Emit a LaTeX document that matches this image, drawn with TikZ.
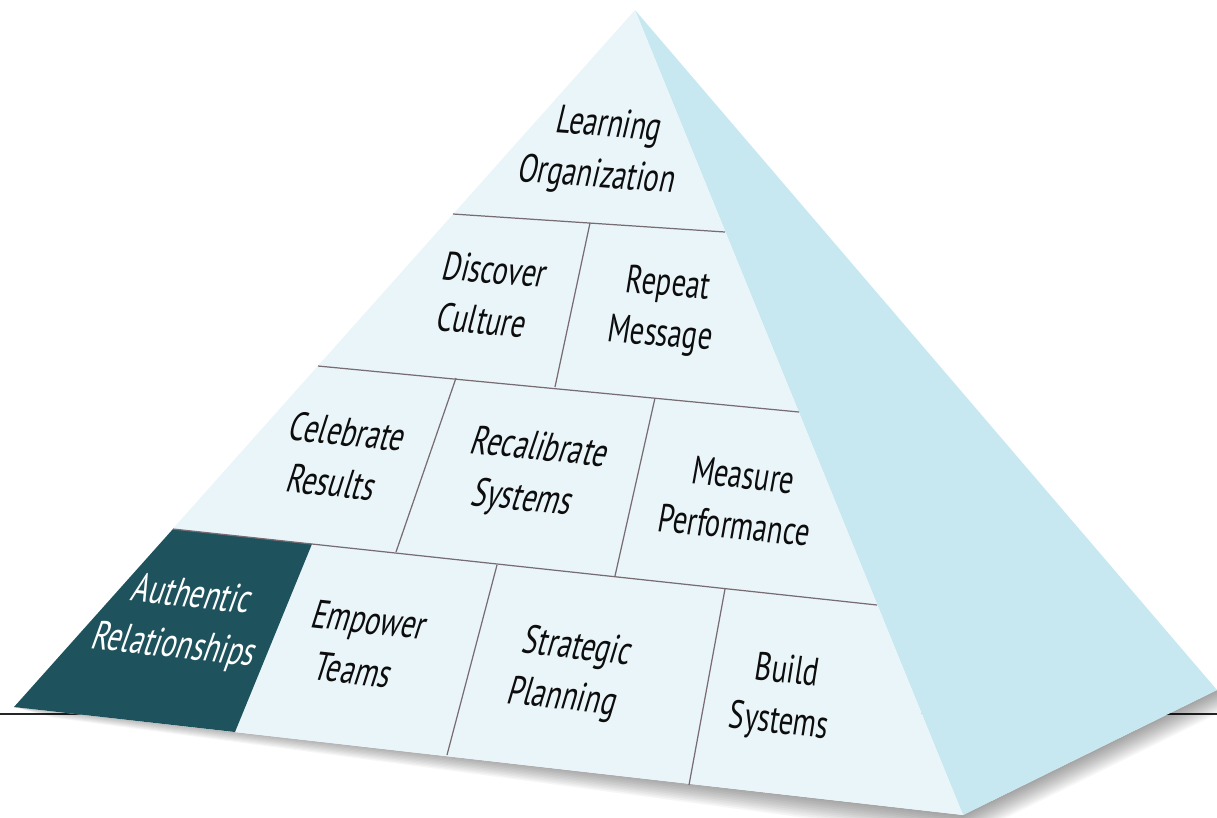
\documentclass[tikz,border=0pt]{standalone}
\usepackage{fontspec}
\newfontfamily\pyrfont{PT Sans}[FakeStretch=0.72]
\usetikzlibrary{calc}
\definecolor{frontface}{HTML}{EAF5F9}
\definecolor{sideface}{HTML}{C7E8F0}
\definecolor{darkcell}{HTML}{1E525C}
\definecolor{rule}{HTML}{776C74}
\tikzset{lbl/.style={align=center, inner sep=0pt, text=black!95, font=\pyrfont\fontsize{11.2}{14.3}\selectfont}}
\tikzset{tilt/.style 2 args={cm={1,#1,#2,1,(0,0)}}}
\tikzset{divider/.style={draw=rule, line width=0.35pt}}

\begin{document}
\begin{tikzpicture}[x=0.01cm, y=-0.01cm]
\useasboundingbox (0,0) rectangle (1217,817);

\coordinate (apex) at (635,10);
\coordinate (fl) at (14,707);
\coordinate (fr) at (963,815);
\coordinate (br) at (1217,690);
\coordinate (gl) at (0,714);
\coordinate (gr) at (1217,714);

% ground line and shadow
\draw[black!85, line width=0.5pt] (gl) -- (gr);
\foreach \k in {1,...,12}
 \fill[black, opacity=0.035] ($(fl)+(40,\k*0.9)$) -- ($(fr)+(0,\k*2)$) -- ($(br)+(0,\k*2)$) -- (br) -- (fr) -- (fl) -- cycle;

% faces
\fill[sideface] (apex) -- (br) -- (fr) -- cycle;
\fill[frontface] (apex) -- (fr) -- (fl) -- cycle;

% rows
\coordinate (r1a) at (453,214); \coordinate (r1b) at (725,232);
\coordinate (r2a) at (318,366); \coordinate (r2b) at (799,412);
\coordinate (r3a) at (173,529); \coordinate (r3b) at (877,605);

\fill[darkcell] (r3a) -- (312,544) -- (235,732) -- (fl) -- cycle;

\draw[divider] (r1a) -- (r1b);
\draw[divider] (r2a) -- (r2b);
\draw[divider] (r3a) -- (r3b);
\draw[divider] (590,223) -- (555,387);
\draw[divider] (456,378) -- (396,552);
\draw[divider] (655,398) -- (615,576);
\draw[divider] (497,565) -- (447,755);
\draw[divider] (725,589) -- (689,785);

% labels
\node[lbl, tilt={-0.07}{0.24}] (learn) at (603,152) {Learning\\Organization};
\node[lbl, tilt={-0.08}{0.26}] (disc) at (489,295) {Discover\\Culture};
\node[lbl, tilt={-0.08}{0.16}] (rep) at (664,311) {Repeat\\Message};
\node[lbl, tilt={-0.10}{0.32}] (celeb) at (340,457) {Celebrate\\Results};
\node[lbl, tilt={-0.10}{0.34}] (recal) at (531,475) {Recalibrate\\Systems};
\node[lbl, tilt={-0.10}{0.18}] (meas) at (739,500) {Measure\\Performance};
\node[lbl, tilt={-0.11}{0.36}, text=white] (auth) at (183,622) {Authentic\\Relationships};
\node[lbl, tilt={-0.11}{0.32}] (emp) at (362,645) {Empower\\Teams};
\node[lbl, tilt={-0.11}{0.30}] (strat) at (570,674) {Strategic\\Planning};
\node[lbl, tilt={-0.11}{0.16}] (build) at (783,698) {Build\\Systems};
\end{tikzpicture}
\end{document}
